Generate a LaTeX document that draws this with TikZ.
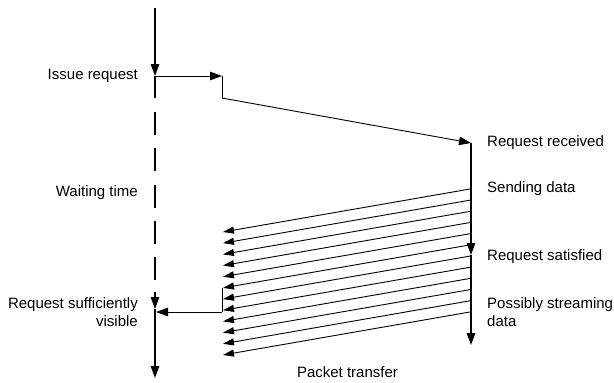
\documentclass[tikz,border=0pt]{standalone}
\usepackage{fontspec}
\setmainfont{Liberation Sans}
\usetikzlibrary{arrows.meta}
\begin{document}
\begin{tikzpicture}[x=1pt,y=-1pt,
  lbl/.style={inner sep=0pt,font=\fontsize{15}{18}\selectfont},
  axis/.style={line width=1.3pt},
  thin/.style={line width=0.9pt},
  bigtip/.style={-{Triangle[length=12pt,width=8.5pt]}},
  smalltip/.style={-{Triangle[length=11pt,width=7pt]}},
  waitdash/.style={axis,dash pattern=on 23pt off 13.25pt}]
\useasboundingbox (0,0) rectangle (614,383);
% left (client) time axis
\coordinate (ltop) at (155,8);
\coordinate (issue) at (155,76);
\coordinate (lsolid) at (155,98);
\coordinate (dstart) at (155,112);
\coordinate (dend) at (155,280);
\coordinate (varr) at (155,292);
\coordinate (vis) at (155,309);
\coordinate (lbot) at (155,378);
\draw[axis,bigtip] (ltop) -- (issue);
\draw[axis] (issue) -- (lsolid);
\draw[waitdash] (dstart) -- (dend);
\draw[axis,bigtip] (varr) -- (vis);
\draw[axis,bigtip] (vis) -- (lbot);
% request path
\coordinate (hop) at (222,76);
\coordinate (hopdown) at (222,98);
\coordinate (recv) at (471,143);
\draw[thin,bigtip] (issue) -- (hop);
\draw[thin] (hop) -- (hopdown);
\draw[thin,bigtip] (hopdown) -- (recv);
% right (server) axis
\coordinate (sat) at (471,255);
\coordinate (rbot) at (471,345);
\draw[axis,bigtip] (recv) -- (sat);
\draw[axis,bigtip] (sat) -- (rbot);
% packets
\foreach \i in {0,...,11}{
  \coordinate (pr\i) at (470,{189+11.18*\i});
  \coordinate (pl\i) at (223,{232+11.18*\i});
  \draw[thin,smalltip] (pr\i) -- (pl\i);
}
% visible notification
\coordinate (vtop) at (222,288);
\coordinate (vcorner) at (222,312);
\coordinate (vend) at (156,312);
\draw[thin] (vtop) -- (vcorner);
\draw[thin,bigtip] (vcorner) -- (vend);
% labels
\node[lbl,anchor=east] (tIssue) at (138,76) {Issue request};
\node[lbl,anchor=east] (tWait) at (138,193) {Waiting time};
\node[lbl,anchor=east,align=right] (tVis) at (138,312) {Request sufficiently\\visible};
\node[lbl,anchor=west] (tRecv) at (487,143) {Request received};
\node[lbl,anchor=west] (tSend) at (487,189) {Sending data};
\node[lbl,anchor=west] (tSat) at (487,257) {Request satisfied};
\node[lbl,anchor=west,align=left] (tStream) at (487,312) {Possibly streaming\\data};
\node[lbl] (tPacket) at (347.5,372) {Packet transfer};
\end{tikzpicture}
\end{document}
